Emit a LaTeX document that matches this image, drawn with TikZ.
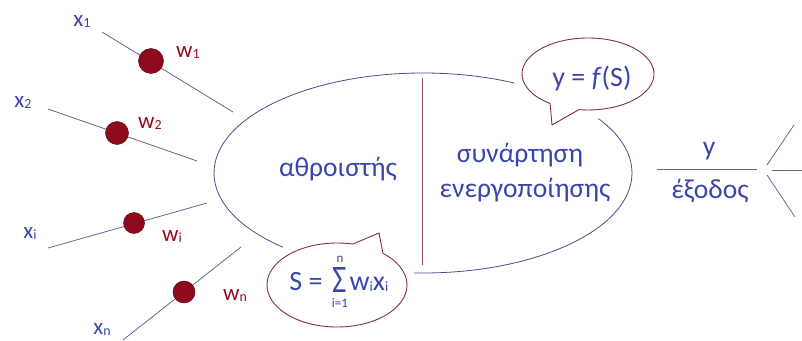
\documentclass[tikz,border=0pt]{standalone}
\usepackage{fontspec}
\usepackage{graphicx}
\setmainfont{Carlito}
\definecolor{textb}{RGB}{58,70,172}
\definecolor{wred}{RGB}{150,12,30}
\definecolor{dotc}{RGB}{140,10,28}
\definecolor{dotoc}{RGB}{105,5,20}
\definecolor{linec}{RGB}{95,105,150}
\definecolor{ellc}{RGB}{72,78,140}
\definecolor{bubc}{RGB}{130,50,72}
\definecolor{divc}{RGB}{150,72,92}
\newcommand{\lowsub}[1]{\raisebox{-1.2pt}{\fontsize{14}{14}\selectfont #1}}
\begin{document}
\begin{tikzpicture}[x=1pt,y=-1pt,
  inp/.style={draw=linec, line width=0.8pt},
  dotw/.style={circle, fill=dotc, draw=dotoc, line width=0.5pt, inner sep=0pt, minimum size=#1},
  xlab/.style={text=textb, font=\fontsize{23}{26}\selectfont, anchor=base, inner sep=0pt},
  wlab/.style={text=wred, font=\fontsize{23}{26}\selectfont, anchor=base, inner sep=0pt},
  big/.style={text=textb, font=\fontsize{27.5}{32}\selectfont, anchor=base, inner sep=0pt},
  small/.style={text=textb, font=\fontsize{13}{14}\selectfont, anchor=base, inner sep=0pt},
  bubble/.style={draw=bubc, line width=0.9pt, fill=white, preaction={draw=white, line width=18pt}},
  mainell/.style={draw=ellc, line width=0.8pt},
]
\useasboundingbox (0,0) rectangle (802,340);

% main ellipse and divider
\draw[mainell] (423,173) ellipse [x radius=209, y radius=100];
\coordinate (dvt) at (422,78);
\coordinate (dvb) at (422,265);
\draw[divc, line width=0.9pt] (dvt) -- (dvb);

% speech bubbles
\path (588,74) ++(125:66 and 36) coordinate (ta);
\coordinate (ttip) at (552,125);
\draw[bubble] (ta) arc[start angle=125, end angle=458, x radius=66, y radius=36] -- (ttip) -- cycle;
\path (337,285) ++(311:70 and 42) coordinate (ba);
\coordinate (btip) at (379,233);
\draw[bubble] (ba) arc[start angle=311, end angle=643, x radius=70, y radius=42] -- (btip) -- cycle;

% inputs
\coordinate (a1) at (102,32);  \coordinate (b1) at (233,112);
\coordinate (a2) at (48,109);  \coordinate (b2) at (197,161);
\coordinate (ai) at (48,248);  \coordinate (bi) at (207,203);
\coordinate (an) at (123,340); \coordinate (bn) at (241,247);
\draw[inp] (a1) -- (b1);
\draw[inp] (a2) -- (b2);
\draw[inp] (ai) -- (bi);
\draw[inp] (an) -- (bn);
\node[dotw=25pt] (d1) at (151,61) {};
\node[dotw=23pt] (d2) at (117,133) {};
\node[dotw=21pt] (di) at (134,223) {};
\node[dotw=22pt] (dn) at (184,292) {};

\node[xlab] (x1) at (82,26) {x\lowsub{1}};
\node[xlab] (x2) at (23,107) {x\lowsub{2}};
\node[xlab] (xi) at (30,238) {x\lowsub{i}};
\node[xlab] (xn) at (102,334) {x\lowsub{n}};
\node[wlab] (w1) at (188,57) {w\lowsub{1}};
\node[wlab] (w2) at (150,128) {w\lowsub{2}};
\node[wlab] (wi) at (172,241) {w\lowsub{i}};
\node[wlab] (wn) at (235,300) {w\lowsub{n}};

% texts
\node[big] (sum) at (338,176) {αθροιστής};
\node[big] (act1) at (520,162) {συνάρτηση};
\node[big] (act2) at (525,197) {ενεργοποίησης};
\node[big, font=\fontsize{28}{32}\selectfont] (fs) at (592,86) {y = \textit{f}(S)};

\node[big, font=\fontsize{28}{32}\selectfont] (ss) at (306,290) {S =};
\node[big, font=\fontsize{39}{40}\selectfont] (sig) at (340,292) {\scalebox{0.8}[1]{Σ}};
\node[small] (sn) at (340,262) {n};
\node[small] (si) at (340,307) {i=1};
\node[big, font=\fontsize{28}{32}\selectfont] (wx) at (369,290) {w\lowsub{i}x\lowsub{i}};

% output
\coordinate (o1) at (657,169); \coordinate (o2) at (757,169);
\draw[inp] (o1) -- (o2);
\node[big] (y) at (709,155) {y};
\node[big] (ex) at (710,198) {έξοδος};
\coordinate (r1) at (794,125); \coordinate (r2) at (767,165);
\coordinate (r3) at (767,175); \coordinate (r4) at (795,217);
\coordinate (r5) at (772,170); \coordinate (r6) at (802,170);
\draw[inp] (r1) -- (r2);
\draw[inp] (r3) -- (r4);
\draw[inp] (r5) -- (r6);
\end{tikzpicture}
\end{document}
